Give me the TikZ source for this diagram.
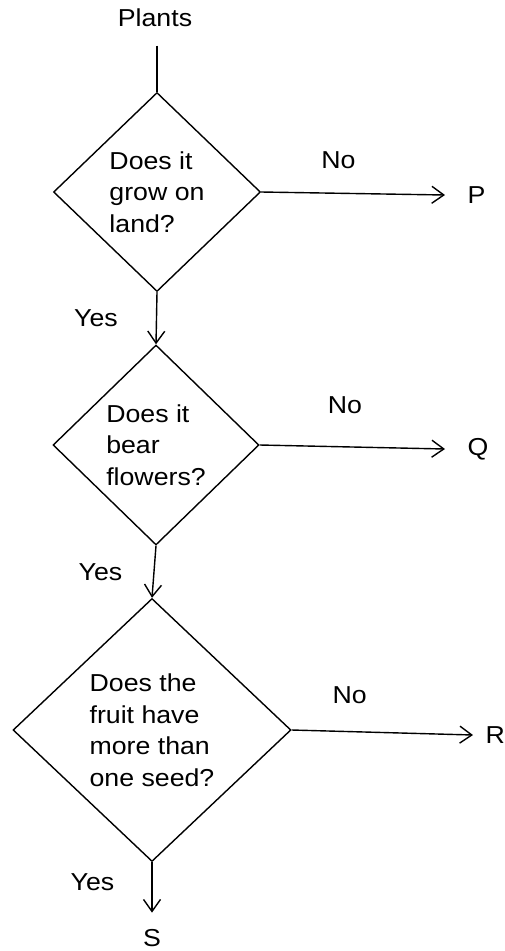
\documentclass[tikz,border=0pt]{standalone}
\usepackage{fontspec}
\setmainfont{Liberation Sans}[FakeStretch=1.09]
\usetikzlibrary{shapes.geometric}
\usetikzlibrary{arrows.meta}
\usetikzlibrary{positioning}
\usetikzlibrary{calc}

\tikzset{
    question/.style={diamond, draw, inner sep=0pt, align=left},
    answer/.style={inner sep=0pt},
}

\begin{document}
\begin{tikzpicture}[x=1pt, y=-1pt, line width=1.4pt,
    font=\fontsize{24.5}{31.5}\selectfont,
    >={Straight Barb[length=12pt,width=17pt]}]
    \useasboundingbox (0,0) rectangle (505,951);

    \node[answer] (plants) at (155,18) {Plants};
    \node[question, minimum width=207pt, minimum height=199pt] (land) at (157,192)
        {Does it\\grow on\\land?};
    \node[question, minimum width=206pt, minimum height=200pt] (flowers) at (156,445)
        {Does it\\bear\\flowers?};
    \node[question, minimum width=278pt, minimum height=263pt] (seed) at (152,730)
        {Does the\\fruit have\\more than\\one seed?};

    % ends of the No branches
    \coordinate (toP) at (445,195);
    \coordinate (toQ) at (445,449);
    \coordinate (toR) at (473,735);
    \node[answer, right=22pt of toP] (p) {P};
    \node[answer, right=22pt of toQ] (q) {Q};
    \node[answer, right=12pt of toR] (r) {R};
    \node[answer] (s) at (152,938) {S};

    \draw[shorten <=18pt] (land.north |- plants.south) -- (land.north);
    \draw[->] (land.south) -- node[answer, left=38pt] (yes1) {Yes} (flowers.north);
    \draw[->] (flowers.south) -- node[answer, left=31pt] (yes2) {Yes} (seed.north);
    \draw[->, shorten >=16pt] (seed.south) -- node[answer, left=37pt, pos=.3] (yes3) {Yes} (s.north);

    \draw[->] (land.east) -- node[answer, above=24pt, pos=.42] (no1) {No} (toP);
    \draw[->] (flowers.east) -- node[answer, above=32pt, pos=.46] (no2) {No} (toQ);
    \draw[->] (seed.east) -- node[answer, above=27pt, pos=.32] (no3) {No} (toR);
\end{tikzpicture}
\end{document}
